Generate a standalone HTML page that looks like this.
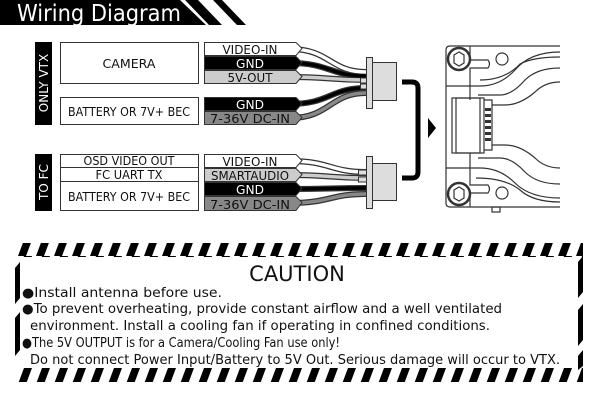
<!DOCTYPE html>
<html><head><style>
html,body{margin:0;padding:0;background:#fff;}
svg{display:block;font-family:"DejaVu Sans","Liberation Sans",sans-serif;}
</style></head><body>
<svg width="600" height="400" viewBox="0 0 600 400" xmlns="http://www.w3.org/2000/svg">
<defs>
<pattern id="st" width="18" height="16" patternUnits="userSpaceOnUse">
<polygon points="6,0 14,0 8,16 0,16" fill="#000"/>
</pattern>
</defs>
<polygon points="0,0 180,0 206,25 0,25" fill="#000"/>
<polygon points="185,0 198,0 222,25 209,25" fill="#000"/>
<polygon points="213,0 222,0 246,25 237,25" fill="#000"/>
<text x="17" y="21" font-size="23" fill="#fff" textLength="164" lengthAdjust="spacingAndGlyphs">Wiring Diagram</text>

<rect x="35" y="42" width="17" height="83" fill="#000"/>
<text transform="translate(48,83) rotate(-90)" font-size="12" fill="#fff" text-anchor="middle">ONLY  VTX</text>
<rect x="35" y="154" width="17" height="57" fill="#000"/>
<text transform="translate(48,182) rotate(-90)" font-size="12" fill="#fff" text-anchor="middle">TO FC</text>

<g fill="#fff" stroke="#333" stroke-width="1">
<rect x="60.5" y="42.5" width="138" height="41"/>
<rect x="60.5" y="97.5" width="138" height="27"/>
<rect x="60.5" y="154.5" width="138" height="56"/>
<line x1="60" y1="167.5" x2="198" y2="167.5"/>
<line x1="60" y1="181.5" x2="198" y2="181.5"/>
</g>
<g font-size="12.5" text-anchor="middle" fill="#111" lengthAdjust="spacingAndGlyphs">
<text x="129" y="68" textLength="53" lengthAdjust="spacingAndGlyphs">CAMERA</text>
<text x="129" y="116" textLength="122" lengthAdjust="spacingAndGlyphs">BATTERY OR 7V+ BEC</text>
<text x="129" y="165" textLength="91" lengthAdjust="spacingAndGlyphs">OSD VIDEO OUT</text>
<text x="129" y="179" textLength="67" lengthAdjust="spacingAndGlyphs">FC UART TX</text>
<text x="129" y="201" textLength="122" lengthAdjust="spacingAndGlyphs">BATTERY OR 7V+ BEC</text>
</g>

<g fill="none" stroke-linecap="butt">
<g stroke="#333" stroke-width="6">
<path d="M290,49 C330,49 330,72 366,72"/>
<path d="M290,63 C330,63 330,76 366,76"/>
<path d="M290,77 C330,77 330,80 366,80"/>
<path d="M290,104 C330,104 330,88 366,88"/>
<path d="M290,118 C330,118 330,93 366,93"/>
<path d="M290,161 C330,161 330,172 366,172"/>
<path d="M290,175 C330,175 330,178 366,178"/>
<path d="M290,189 C330,189 330,188 366,188"/>
<path d="M290,203 C330,203 330,194 366,194"/>
</g>
<g stroke-width="3.5">
<path stroke="#fff" d="M290,49 C330,49 330,72 366,72"/>
<path stroke="#000" d="M290,63 C330,63 330,76 366,76"/>
<path stroke="#ccc" d="M290,77 C330,77 330,80 366,80"/>
<path stroke="#000" d="M290,104 C330,104 330,88 366,88"/>
<path stroke="#888" d="M290,118 C330,118 330,93 366,93"/>
<path stroke="#fff" d="M290,161 C330,161 330,172 366,172"/>
<path stroke="#ccc" d="M290,175 C330,175 330,178 366,178"/>
<path stroke="#000" d="M290,189 C330,189 330,188 366,188"/>
<path stroke="#888" d="M290,203 C330,203 330,194 366,194"/>
</g>
</g>

<g stroke="#333" stroke-width="1">
<polygon points="204.5,42.5 296,42.5 302,48.5 296,55.5 204.5,55.5" fill="#fff"/>
<polygon points="204.5,56.5 296,56.5 302,62.5 296,69.5 204.5,69.5" fill="#000"/>
<polygon points="204.5,70.5 296,70.5 302,76.5 296,83.5 204.5,83.5" fill="#ccc"/>
<polygon points="204.5,97.5 296,97.5 302,103.5 296,110.5 204.5,110.5" fill="#000"/>
<polygon points="204.5,111.5 296,111.5 302,117.5 296,124.5 204.5,124.5" fill="#888"/>
<polygon points="204.5,154.5 296,154.5 302,160.5 296,167.5 204.5,167.5" fill="#fff"/>
<polygon points="204.5,168.5 296,168.5 302,174.5 296,181.5 204.5,181.5" fill="#ccc"/>
<polygon points="204.5,182.5 296,182.5 302,188.5 296,195.5 204.5,195.5" fill="#000"/>
<polygon points="204.5,196.5 296,196.5 302,202.5 296,210.5 204.5,210.5" fill="#888"/>
</g>
<g font-size="12.5" text-anchor="middle">
<text x="250" y="54" fill="#111" textLength="55" lengthAdjust="spacingAndGlyphs">VIDEO-IN</text>
<text x="250" y="68" fill="#fff" textLength="28" lengthAdjust="spacingAndGlyphs">GND</text>
<text x="250" y="82" fill="#111" textLength="45" lengthAdjust="spacingAndGlyphs">5V-OUT</text>
<text x="250" y="109" fill="#fff" textLength="28" lengthAdjust="spacingAndGlyphs">GND</text>
<text x="250" y="123" fill="#111" textLength="80" lengthAdjust="spacingAndGlyphs">7-36V DC-IN</text>
<text x="250" y="166" fill="#111" textLength="55" lengthAdjust="spacingAndGlyphs">VIDEO-IN</text>
<text x="250" y="180" fill="#111" textLength="78" lengthAdjust="spacingAndGlyphs">SMARTAUDIO</text>
<text x="250" y="194" fill="#fff" textLength="28" lengthAdjust="spacingAndGlyphs">GND</text>
<text x="250" y="209" fill="#111" textLength="80" lengthAdjust="spacingAndGlyphs">7-36V DC-IN</text>
</g>

<g stroke="#333" stroke-width="1" fill="#ddd">
<rect x="366.5" y="57.5" width="6" height="51"/>
<rect x="372.5" y="62.5" width="24" height="38"/>
<rect x="360.5" y="78" width="6" height="5"/><rect x="360.5" y="84" width="6" height="5"/>
<rect x="366.5" y="156.5" width="6" height="52"/>
<rect x="372.5" y="163.5" width="24" height="37"/>
<rect x="358.5" y="170" width="8" height="5"/><rect x="358.5" y="177" width="8" height="5"/>
</g>
<path d="M402,82 H412 Q418,82 418,88 V172 Q418,178 412,178 H402" fill="none" stroke="#000" stroke-width="5"/>
<polygon points="428,118 436,128 428,138" fill="#000"/>

<g fill="none" stroke="#333" stroke-width="1.2">
<path d="M450,46 H560 M450,46 Q446,46 446,50 V203 Q446,207 450,207 H560"/>
<path d="M470,46 V60 H488 Q491,64 488,68 H470 V100"/>
<path d="M470,207 V193 H488 Q491,189 488,185 H470 V153"/>
<circle cx="459" cy="59" r="11" stroke-width="2.5"/>
<polygon points="454,55 459,52 464,55 464,63 459,66 454,63"/>
<circle cx="459" cy="194" r="11" stroke-width="2.5"/>
<polygon points="454,190 459,187 464,190 464,198 459,201 454,198"/>
<circle cx="502" cy="59" r="6"/>
<circle cx="502" cy="193" r="6"/>
<rect x="452" y="98" width="32" height="55"/>
<rect x="456" y="98" width="24" height="55"/>
<path d="M484,100 H492 V150 H484"/>
<path d="M446,86 H480 Q500,86 515,70 Q530,52 560,52"/>
<path d="M480,80 Q505,80 520,64 Q533,57 560,57"/>
<path d="M478,95 H500 Q512,95 525,80 Q537,68 560,68"/>
<path d="M492,105 H505 Q520,105 535,92 Q545,82 560,82"/>
<path d="M492,145 H505 Q520,145 535,158 Q545,168 560,168"/>
<path d="M478,158 H500 Q512,158 525,172 Q537,184 560,184"/>
<path d="M446,168 H480 Q500,168 515,183 Q530,198 560,198"/>
<path d="M476,178 Q505,178 520,190 Q533,202 560,202"/>
<rect x="492" y="207" width="8" height="5"/>
</g>
<g fill="#333">
<rect x="485" y="108" width="6" height="3"/><rect x="485" y="114" width="6" height="3"/>
<rect x="485" y="120" width="6" height="3"/><rect x="485" y="126" width="6" height="3"/>
<rect x="485" y="132" width="6" height="3"/><rect x="485" y="138" width="6" height="3"/>
</g>

<rect x="15" y="243" width="568" height="14" fill="url(#st)"/>
<rect x="15" y="368" width="568" height="14" fill="url(#st)"/>
<polygon points="15,268 20,262 20,298 15,304" fill="#000"/>
<polygon points="15,318 20,312 20,350 15,356" fill="#000"/>
<polygon points="578,262 583,256 583,292 578,298" fill="#000"/>
<polygon points="578,310 583,304 583,340 578,346" fill="#000"/>
<polygon points="578,356 583,350 583,366 578,370" fill="#000"/>
<text x="297" y="281" font-size="21" text-anchor="middle" fill="#111">CAUTION</text>
<g font-size="13" fill="#111">
<text x="22" y="297" textLength="200" lengthAdjust="spacingAndGlyphs">●Install antenna before use.</text>
<text x="22" y="313" textLength="480" lengthAdjust="spacingAndGlyphs">●To prevent overheating, provide constant airflow and a well ventilated</text>
<text x="30" y="330" textLength="460" lengthAdjust="spacingAndGlyphs">environment.  Install a cooling fan if operating in confined conditions.</text>
<text x="22" y="347" textLength="318" lengthAdjust="spacingAndGlyphs">●The 5V OUTPUT is for a Camera/Cooling Fan use only!</text>
<text x="30" y="364" textLength="530" lengthAdjust="spacingAndGlyphs">Do not connect Power Input/Battery to 5V Out.  Serious damage will occur to VTX.</text>
</g>
</svg>
</body></html>
